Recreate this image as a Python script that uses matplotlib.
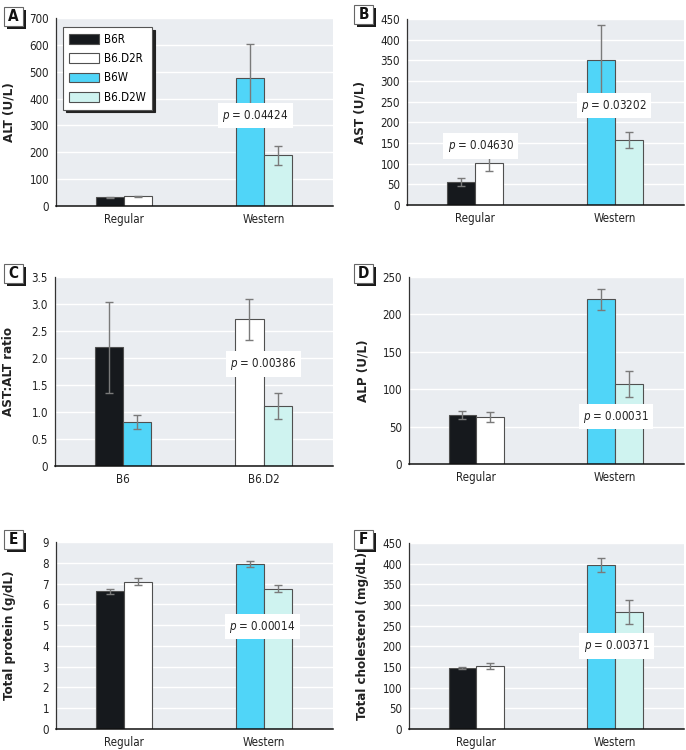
import matplotlib
matplotlib.use("Agg")
import matplotlib.pyplot as plt
from matplotlib.patches import Patch, Rectangle
import numpy as np

plt.rcParams['font.family'] = ['DejaVu Sans']
plt.rcParams['font.stretch'] = 'condensed'

series = ["B6R", "B6.D2R", "B6W", "B6.D2W"]
colors = {"B6R": "#16191d", "B6.D2R": "#ffffff", "B6W": "#50d5f8", "B6.D2W": "#cff3f0"}

diet_groups = ["Regular", "Western"]
strain_groups = ["B6", "B6.D2"]

# values (B6R, B6.D2R, B6W, B6.D2W) and SEs
alt_vals = [32, 36, 476, 189]
alt_errs = [3, 2, 128, 36]
ast_vals = [56, 101, 350, 157]
ast_errs = [9, 18, 85, 20]
ratio_vals = [2.20, 2.72, 0.81, 1.11]
ratio_errs = [0.84, 0.38, 0.13, 0.24]
alp_vals = [65, 63, 220, 107]
alp_errs = [5.5, 6.5, 14, 17]
prot_vals = [6.62, 7.09, 7.95, 6.76]
prot_errs = [0.12, 0.17, 0.13, 0.17]
chol_vals = [147, 153, 397, 282]
chol_errs = [3, 7, 17, 29]

# p-value annotations: (text, x, y)
alt_p = [("0.04424", 0.94, 336)]
ast_p = [("0.04630", 0.04, 143), ("0.03202", 0.995, 240)]
ratio_p = [("0.00386", 1.0, 1.89)]
alp_p = [("0.00031", 1.005, 63.5)]
prot_p = [("0.00014", 0.99, 4.93)]
chol_p = [("0.00371", 1.01, 201)]

W, H = 686, 750
fig = plt.figure(figsize=(W / 100, H / 100), dpi=100)

diet_layout = {"B6R": (0, -1), "B6.D2R": (0, 1), "B6W": (1, -1), "B6.D2W": (1, 1)}
strain_layout = {"B6R": (0, -1), "B6W": (0, 1), "B6.D2R": (1, -1), "B6.D2W": (1, 1)}

panels = [
    dict(letter="A", box=(56, 18, 333, 206), vals=alt_vals, errs=alt_errs, ylim=700, step=100,
         ylabel="ALT (U/L)", groups=diet_groups, layout=diet_layout, p=alt_p, fmt="{:.0f}", legend=True,
         lab=(4, 7)),
    dict(letter="B", box=(407, 19, 684, 205), vals=ast_vals, errs=ast_errs, ylim=450, step=50,
         ylabel="AST (U/L)", groups=diet_groups, layout=diet_layout, p=ast_p, fmt="{:.0f}", lab=(354, 5)),
    dict(letter="C", box=(55, 277, 333, 466), vals=ratio_vals, errs=ratio_errs, ylim=3.5, step=0.5,
         ylabel="AST:ALT ratio", groups=strain_groups, layout=strain_layout, p=ratio_p, fmt="ratio",
         lab=(4, 264)),
    dict(letter="D", box=(409, 277, 684, 464), vals=alp_vals, errs=alp_errs, ylim=250, step=50,
         ylabel="ALP (U/L)", groups=diet_groups, layout=diet_layout, p=alp_p, fmt="{:.0f}", lab=(354, 264)),
    dict(letter="E", box=(56, 542, 333, 729), vals=prot_vals, errs=prot_errs, ylim=9, step=1,
         ylabel="Total protein (g/dL)", groups=diet_groups, layout=diet_layout, p=prot_p, fmt="{:.0f}",
         lab=(4, 530)),
    dict(letter="F", box=(409, 543, 684, 729), vals=chol_vals, errs=chol_errs, ylim=450, step=50,
         ylabel="Total cholesterol (mg/dL)", groups=diet_groups, layout=diet_layout, p=chol_p, fmt="{:.0f}",
         lab=(354, 530)),
]

bw = 0.2
for P in panels:
    l, t, r, b = P["box"]
    ax = fig.add_axes([l / W, 1 - b / H, (r - l) / W, (b - t) / H])
    ax.set_facecolor("#eaedf1")
    ax.set_xlim(-0.485, 1.495)
    ax.set_ylim(0, P["ylim"])
    ticks = np.arange(0, P["ylim"] + P["step"] / 2, P["step"])
    ax.set_yticks(ticks)
    if P["fmt"] == "ratio":
        ax.set_yticklabels(["0" if v == 0 else f"{v:.1f}" for v in ticks])
    ax.yaxis.grid(True, color="white", linewidth=1.0)
    ax.set_axisbelow(True)
    for s in ["top", "right"]:
        ax.spines[s].set_visible(False)
    ax.spines["left"].set_color("#333333")
    ax.spines["left"].set_linewidth(0.9)
    ax.spines["bottom"].set_color("#111111")
    ax.spines["bottom"].set_linewidth(1.1)
    ax.tick_params(axis="both", length=0, labelsize=8.3, colors="#222222")
    ax.tick_params(axis="y", pad=5)
    ax.tick_params(axis="x", pad=5)
    ax.set_xticks([0, 1])
    ax.set_xticklabels(P["groups"])
    for i, s in enumerate(series):
        g, off = P["layout"][s]
        x = g + off * bw / 2
        ax.bar(x, P["vals"][i], width=bw, color=colors[s], edgecolor="#505050",
               linewidth=0.8, zorder=2)
        ax.errorbar(x, P["vals"][i], yerr=P["errs"][i], fmt="none", ecolor="#7a7a7a",
                    elinewidth=1.0, capsize=3, capthick=1.0, zorder=3)
    for txt, px, py in P["p"]:
        ax.text(px, py, r"$\it{p}$ = " + txt, ha="center", va="center", fontsize=8.3, zorder=5,
                color="#222222",
                bbox=dict(boxstyle="square,pad=0.4", facecolor="white", edgecolor="none"))
    ax.set_ylabel(P["ylabel"], fontsize=9.5, fontweight="bold", color="#222222")
    ax.yaxis.set_label_coords(-0.145, 0.5)
    if P.get("legend"):
        handles = [Patch(facecolor=colors[s], edgecolor="#505050", linewidth=0.8, label=s) for s in series]
        leg = ax.legend(handles=handles, loc="upper left", bbox_to_anchor=(0.025, 0.952),
                        borderaxespad=0, fontsize=8.3, handlelength=2.6, handleheight=0.9,
                        labelspacing=0.55, borderpad=0.5, handletextpad=0.5, fancybox=False,
                        framealpha=1, edgecolor="#555555",
                        shadow=dict(color="#222222", alpha=1.0, ox=2, oy=-2))
        leg.get_frame().set_linewidth(0.8)
    # panel letter
    lx, ly = P["lab"]
    fig.patches.append(Rectangle(((lx + 3) / W, 1 - (ly + 22) / H), 19 / W, 19 / H,
                                 transform=fig.transFigure, facecolor="#1a1a1a", edgecolor="none"))
    fig.patches.append(Rectangle((lx / W, 1 - (ly + 19) / H), 19 / W, 19 / H,
                                 transform=fig.transFigure, facecolor="white", edgecolor="#666666",
                                 linewidth=0.8))
    fig.text((lx + 9.5) / W, 1 - (ly + 9.5) / H, P["letter"], ha="center", va="center",
             fontsize=11, fontweight="bold", color="#111111")

fig.savefig("out.png", dpi=100)
